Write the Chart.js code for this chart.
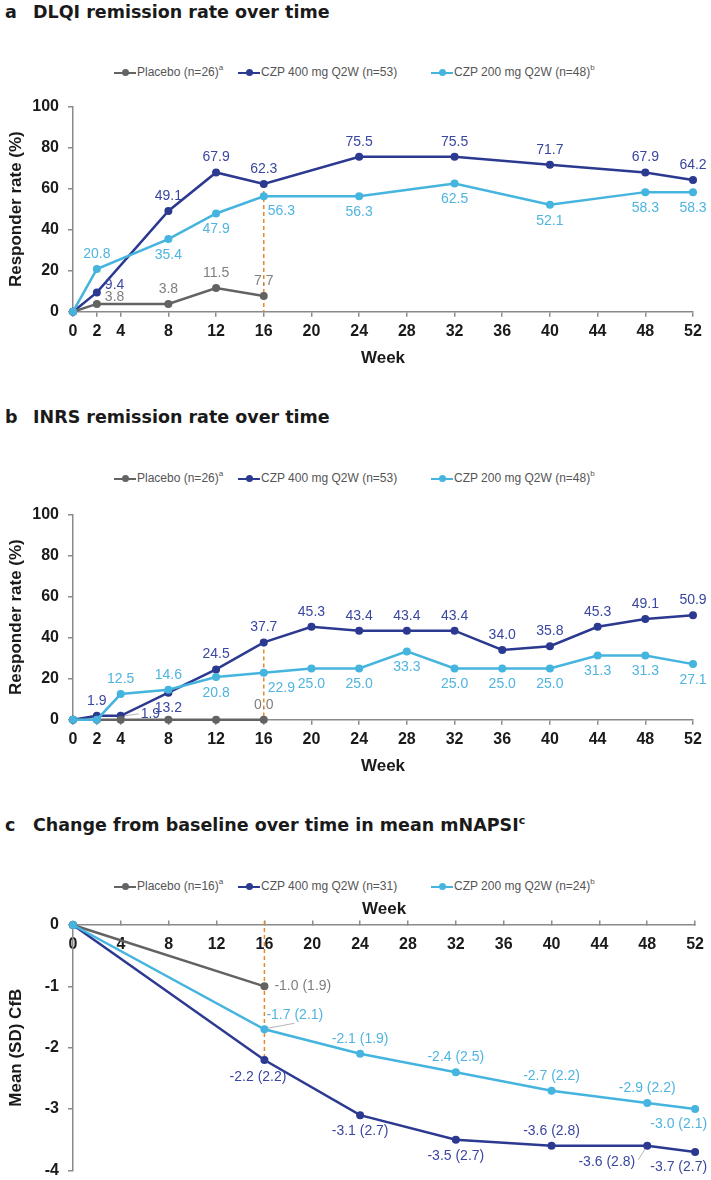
<!DOCTYPE html>
<html>
<head>
<meta charset="utf-8">
<script src="https://cdn.jsdelivr.net/npm/chart.js@4.4.0/dist/chart.umd.min.js"></script>
<style>
  body { margin: 0; background: #fff; }
  #page { position: relative; width: 711px; height: 1180px; overflow: hidden; font-family: "Liberation Sans", Arial, sans-serif; }
  .title { position: absolute; left: 0; width: 711px; height: 22px; line-height: 22px; font-family: "DejaVu Sans", Verdana, sans-serif; font-weight: bold; font-size: 17.5px; color: #1a1a1a; white-space: nowrap; }
  .title .letter { position: absolute; left: 5px; }
  .title .text { position: absolute; left: 33px; }
  .title sup { font-size: 11px; vertical-align: top; line-height: 14px; }
  .legend { position: absolute; left: 0; width: 711px; height: 16px; font-size: 12px; color: #555; }
  .legend .item { position: absolute; top: 0; line-height: 16px; white-space: nowrap; }
  .sym { display: inline-block; position: relative; width: 22px; height: 2.5px; vertical-align: middle; margin-right: 1px; }
  .sym::after { content: ''; position: absolute; left: 7.5px; top: -2.25px; width: 7px; height: 7px; border-radius: 50%; background: inherit; }
  .legend sup { font-size: 8px; vertical-align: top; line-height: 8px; }
  canvas { position: absolute; left: 0; }
</style>
</head>
<body>
<div id="page">
  <div class="title" style="top:1px"><span class="letter">a</span><span class="text">DLQI remission rate over time</span></div>
  <div class="legend" style="top:64px">
    <span class="item" style="left:114px"><i class="sym" style="background:#636363"></i>Placebo (n=26)<sup>a</sup></span>
    <span class="item" style="left:238px"><i class="sym" style="background:#2b3990"></i>CZP 400 mg Q2W (n=53)</span>
    <span class="item" style="left:431px"><i class="sym" style="background:#45b4de"></i>CZP 200 mg Q2W (n=48)<sup>b</sup></span>
  </div>
  <canvas id="chartA" width="711" height="288" style="top:88px"></canvas>

  <div class="title" style="top:406px"><span class="letter">b</span><span class="text">INRS remission rate over time</span></div>
  <div class="legend" style="top:470px">
    <span class="item" style="left:114px"><i class="sym" style="background:#636363"></i>Placebo (n=26)<sup>a</sup></span>
    <span class="item" style="left:238px"><i class="sym" style="background:#2b3990"></i>CZP 400 mg Q2W (n=53)</span>
    <span class="item" style="left:431px"><i class="sym" style="background:#45b4de"></i>CZP 200 mg Q2W (n=48)<sup>b</sup></span>
  </div>
  <canvas id="chartB" width="711" height="288" style="top:496px"></canvas>

  <div class="title" style="top:814px"><span class="letter">c</span><span class="text">Change from baseline over time in mean mNAPSI<sup>c</sup></span></div>
  <div class="legend" style="top:878px">
    <span class="item" style="left:114px"><i class="sym" style="background:#636363"></i>Placebo (n=16)<sup>a</sup></span>
    <span class="item" style="left:238px"><i class="sym" style="background:#2b3990"></i>CZP 400 mg Q2W (n=31)</span>
    <span class="item" style="left:431px"><i class="sym" style="background:#45b4de"></i>CZP 200 mg Q2W (n=24)<sup>b</sup></span>
  </div>
  <canvas id="chartC" width="719" height="309" style="top:880px"></canvas>
</div>

<script>
// ---- data ----
const xTicksAB = [0, 2, 4, 8, 12, 16, 20, 24, 28, 32, 36, 40, 44, 48, 52];
const xTicksC = [0, 4, 8, 12, 16, 20, 24, 28, 32, 36, 40, 44, 48, 52];
const yTicksAB = [0, 20, 40, 60, 80, 100];
const yTicksC = [0, -1, -2, -3, -4];
const splitWeek = 16;

// a: DLQI remission
const weeksPboA = [0, 2, 8, 12, 16];
const weeksA = [0, 2, 8, 12, 16, 24, 32, 40, 48, 52];
const pboA = [0, 3.8, 3.8, 11.5, 7.7];
const czp400A = [0, 9.4, 49.1, 67.9, 62.3, 75.5, 75.5, 71.7, 67.9, 64.2];
const czp200A = [0, 20.8, 35.4, 47.9, 56.3, 56.3, 62.5, 52.1, 58.3, 58.3];

// b: INRS remission
const weeksPboB = [0, 2, 4, 8, 12, 16];
const weeksB = [0, 2, 4, 8, 12, 16, 20, 24, 28, 32, 36, 40, 44, 48, 52];
const pboB = [0, 0, 0, 0, 0, 0];
const czp400B = [0, 1.9, 1.9, 13.2, 24.5, 37.7, 45.3, 43.4, 43.4, 43.4, 34.0, 35.8, 45.3, 49.1, 50.9];
const czp200B = [0, 0, 12.5, 14.6, 20.8, 22.9, 25.0, 25.0, 33.3, 25.0, 25.0, 25.0, 31.3, 31.3, 27.1];

// c: mNAPSI change from baseline, mean and SD
const weeksPboC = [0, 16];
const weeksC = [0, 16, 24, 32, 40, 48, 52];
const pboC = [0, -1.0];
const pboSdC = [0, 1.9];
const czp400C = [0, -2.2, -3.1, -3.5, -3.6, -3.6, -3.7];
const czp400SdC = [0, 2.2, 2.7, 2.7, 2.8, 2.8, 2.7];
const czp200C = [0, -1.7, -2.1, -2.4, -2.7, -2.9, -3.0];
const czp200SdC = [0, 2.1, 1.9, 2.5, 2.2, 2.2, 2.1];

// where each value label sits relative to its point ('' = no label)
const placePboA = ['', 'r', 'a', 'a', 'a'];
const place400A = ['', 'r', 'a', 'a', 'a', 'a', 'a', 'a', 'a', 'a'];
const place200A = ['', 'a', 'b', 'b', 'br', 'b', 'b', 'b', 'b', 'b'];
const placePboB = ['', '', '', '', '', 'a'];
const place400B = ['', 'a', 'rL', 'b', 'a', 'a', 'a', 'a', 'a', 'a', 'a', 'a', 'a', 'a', 'a'];
const place200B = ['', '', 'a', 'a', 'b', 'br', 'b', 'b', 'b', 'b', 'b', 'b', 'b', 'b', 'b'];
const placePboC = ['', 'rm'];
const place400C = ['', 'bl', 'b', 'b', 'a', 'bL', 'be'];
const place200C = ['', 'ar', 'a', 'a', 'a', 'a', 'be'];

// ---- styles ----
const colPbo = '#636363', colHigh = '#2b3990', colLow = '#45b4de';
const txtPbo = '#7f7f7f', txtHigh = '#3a47a0', txtLow = '#4fb4e0';
const axisColor = '#8a8a8a';
const inkColor = '#1a1a1a';
const tickFont = { family: '"Liberation Sans", Arial, sans-serif', size: 16, weight: 'bold' };
const axisTitleFont = { family: '"Liberation Sans", Arial, sans-serif', size: 17, weight: 'bold' };

const spots = {
  a:  { align: 'center', dx: 0, dy: -15 },
  b:  { align: 'center', dx: 0, dy: 16 },
  r:  { align: 'left', dx: 8, dy: -7 },
  rm: { align: 'left', dx: 10, dy: 0 },
  rL: { align: 'left', dx: 20, dy: -2, lead: [4, 0, 18, -2] },
  br: { align: 'left', dx: 4, dy: 15 },
  ar: { align: 'left', dx: 2, dy: -14, lead: [3, -1, 30, -6] },
  bl: { align: 'right', dx: 22, dy: 17 },
  be: { align: 'right', dx: 12, dy: 15 },
  bL: { align: 'right', dx: -12, dy: 16, lead: [-2, 3, -9, 14] }
};

function series(label, weeks, values, color, textColor, place, order, sd) {
  return {
    label: label,
    data: weeks.map((w, i) => ({ x: w, y: values[i] })),
    borderColor: color,
    backgroundColor: color,
    pointBackgroundColor: color,
    pointBorderWidth: 0,
    pointRadius: 4,
    borderWidth: 2.5,
    clip: false,
    order: order,
    textColor: textColor,
    place: place,
    sd: sd
  };
}

// value labels next to the points
const pointLabels = {
  id: 'pointLabels',
  afterDatasetsDraw(chart) {
    const ctx = chart.ctx;
    chart.data.datasets.forEach((ds, i) => {
      const meta = chart.getDatasetMeta(i);
      ctx.save();
      ctx.font = '14px "Liberation Sans", Arial, sans-serif';
      ctx.textBaseline = 'middle';
      meta.data.forEach((pt, j) => {
        const s = spots[ds.place[j]];
        if (!s) return;
        let text = ds.data[j].y.toFixed(1);
        if (ds.sd) text += ' (' + ds.sd[j].toFixed(1) + ')';
        if (s.lead) {
          ctx.strokeStyle = '#b5b5b5';
          ctx.lineWidth = 1;
          ctx.beginPath();
          ctx.moveTo(pt.x + s.lead[0], pt.y + s.lead[1]);
          ctx.lineTo(pt.x + s.lead[2], pt.y + s.lead[3]);
          ctx.stroke();
        }
        ctx.fillStyle = ds.textColor;
        ctx.textAlign = s.align;
        ctx.fillText(text, pt.x + s.dx, pt.y + s.dy);
      });
      ctx.restore();
    });
  }
};

// dashed marker at week 16
const weekLine = {
  id: 'weekLine',
  beforeDatasetsDraw(chart) {
    const { ctx, scales } = chart;
    const vals = chart.data.datasets.map(ds => {
      const p = ds.data.find(d => d.x === splitWeek);
      return p ? p.y : 0;
    });
    const px = scales.x.getPixelForValue(splitWeek);
    const top = scales.y.getPixelForValue(Math.max(0, ...vals));
    const bottom = scales.y.getPixelForValue(Math.min(0, ...vals));
    ctx.save();
    ctx.strokeStyle = '#e3892c';
    ctx.lineWidth = 1.5;
    ctx.setLineDash([4, 3]);
    ctx.beginPath();
    ctx.moveTo(px, top - (Math.max(...vals) <= 0 ? 4 : 0));
    ctx.lineTo(px, bottom);
    ctx.stroke();
    ctx.restore();
  }
};

function makeChart(id, datasets, xTicks, yTicks, yTitle, xAtZero, padding) {
  const yMin = Math.min(...yTicks), yMax = Math.max(...yTicks);
  return new Chart(document.getElementById(id), {
    type: 'line',
    data: { datasets: datasets },
    plugins: [weekLine, pointLabels],
    options: {
      responsive: false,
      animation: false,
      layout: { padding: padding },
      plugins: { legend: { display: false }, tooltip: { enabled: false } },
      scales: {
        x: {
          type: 'linear',
          min: 0,
          max: 52,
          // panel c: axis sits on y = 0 at the top, labels below, title above
          position: xAtZero ? { y: 0 } : 'bottom',
          afterBuildTicks: s => { s.ticks = xTicks.map(v => ({ value: v })); },
          afterFit: s => { s.height = xAtZero ? 0 : 64.3; },
          grid: { drawOnChartArea: false, drawTicks: true, tickLength: xAtZero ? -5 : 5, color: axisColor, lineWidth: 1.5 },
          border: { color: axisColor, width: 1.5 },
          ticks: { font: tickFont, color: inkColor, padding: xAtZero ? 15 : 5, autoSkip: false, maxRotation: 0 },
          title: {
            display: true, text: 'Week', font: axisTitleFont, color: inkColor,
            padding: xAtZero ? { top: 0, bottom: 5 } : { top: 0, bottom: 7 }
          }
        },
        y: {
          min: yMin,
          max: yMax,
          afterBuildTicks: s => { s.ticks = yTicks.map(v => ({ value: v })); },
          afterFit: s => { s.width = 73; },
          grid: { drawOnChartArea: false, drawTicks: true, tickLength: 5, color: axisColor, lineWidth: 1.5 },
          border: { color: axisColor, width: 1.5 },
          ticks: { font: tickFont, color: inkColor, padding: 9 },
          title: { display: true, text: yTitle, font: axisTitleFont, color: inkColor, padding: { top: 6, bottom: 0 } }
        }
      }
    }
  });
}

makeChart('chartA', [
  series('Placebo (n=26)', weeksPboA, pboA, colPbo, txtPbo, placePboA, 2),
  series('CZP 400 mg Q2W (n=53)', weeksA, czp400A, colHigh, txtHigh, place400A, 3),
  series('CZP 200 mg Q2W (n=48)', weeksA, czp200A, colLow, txtLow, place200A, 1)
], xTicksAB, yTicksAB, 'Responder rate (%)', false, { top: 10.6, right: 18, bottom: 0, left: 0 });

makeChart('chartB', [
  series('Placebo (n=26)', weeksPboB, pboB, colPbo, txtPbo, placePboB, 2),
  series('CZP 400 mg Q2W (n=53)', weeksB, czp400B, colHigh, txtHigh, place400B, 3),
  series('CZP 200 mg Q2W (n=48)', weeksB, czp200B, colLow, txtLow, place200B, 1)
], xTicksAB, yTicksAB, 'Responder rate (%)', false, { top: 10, right: 18, bottom: 0, left: 0 });

// canvas c is a little larger than its slot: the axis-at-zero layout keeps extra room on the right and bottom
makeChart('chartC', [
  series('Placebo (n=16)', weeksPboC, pboC, colPbo, txtPbo, placePboC, 2, pboSdC),
  series('CZP 400 mg Q2W (n=31)', weeksC, czp400C, colHigh, txtHigh, place400C, 3, czp400SdC),
  series('CZP 200 mg Q2W (n=24)', weeksC, czp200C, colLow, txtLow, place200C, 1, czp200SdC)
], xTicksC, yTicksC, 'Mean (SD) CfB', true, { top: 45, right: 13, bottom: 2, left: 0 });
</script>
</body>
</html>
